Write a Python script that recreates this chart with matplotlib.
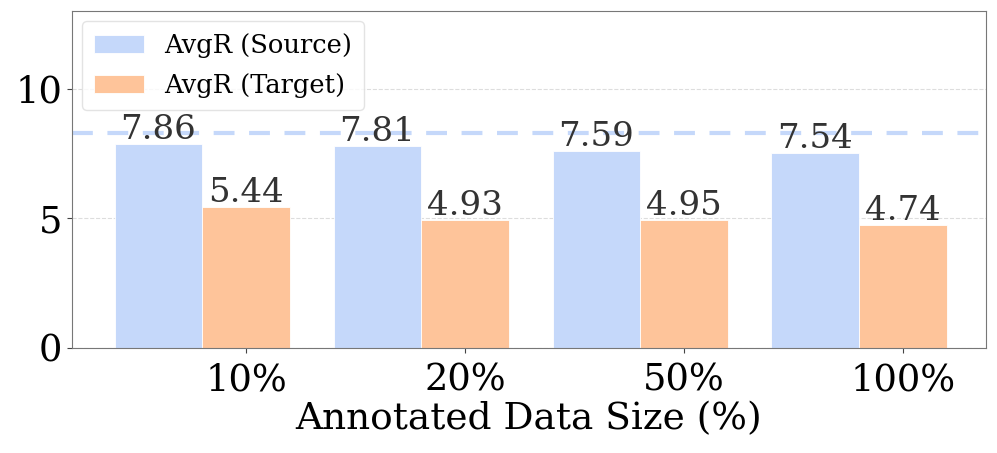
import numpy as np
import matplotlib
matplotlib.use('Agg')
import matplotlib.pyplot as plt

plt.rcParams['font.family'] = 'DejaVu Serif'

# data
sizes = ['10%', '20%', '50%', '100%']
avgr_source = [7.86, 7.81, 7.59, 7.54]
avgr_target = [5.44, 4.93, 4.95, 4.74]
ref_line = 8.3

c_src = '#c5d8fa'
c_tgt = '#fec49a'

x = np.arange(len(sizes))
w = 0.4

fig = plt.figure(figsize=(9.97, 4.53), dpi=100)
ax = fig.add_axes([0.0722, 0.2318, 0.9168, 0.7439])

b1 = ax.bar(x - w/2, avgr_source, w, color=c_src, edgecolor='white', linewidth=0.6,
            label='AvgR (Source)', zorder=2)
b2 = ax.bar(x + w/2, avgr_target, w, color=c_tgt, edgecolor='white', linewidth=0.6,
            label='AvgR (Target)', zorder=2)

ax.axhline(ref_line, color=c_src, linestyle=(0, (5, 3.5)), linewidth=3, zorder=1)

for bars in (b1, b2):
    for r in bars:
        ax.text(r.get_x() + r.get_width()/2, r.get_height() - 0.08, f'{r.get_height():.2f}',
                ha='center', va='bottom', fontsize=24.5, color='#333333', zorder=3)

ax.set_ylim(0, 13)
ax.set_xlim(-0.595, 3.58)
ax.set_yticks([0, 5, 10])
ax.set_xticks(x + w/2)
ax.set_xticklabels(sizes)
ax.tick_params(axis='both', labelsize=26.5, color='#444444')
ax.tick_params(axis='x', pad=7)
ax.set_xlabel('Annotated Data Size (%)', fontsize=27, labelpad=2)

ax.yaxis.grid(True, linestyle='--', color='#dddddd', linewidth=0.8, zorder=0)
ax.set_axisbelow(True)
for s in ax.spines.values():
    s.set_color('#777777')

leg = ax.legend(loc='upper left', fontsize=18.5, frameon=True, handlelength=1.95,
                handleheight=0.7, borderpad=0.45, labelspacing=0.6, handletextpad=0.8,
                borderaxespad=0.4)
leg.get_frame().set_edgecolor('#dddddd')

fig.savefig('out.png', dpi=100)
